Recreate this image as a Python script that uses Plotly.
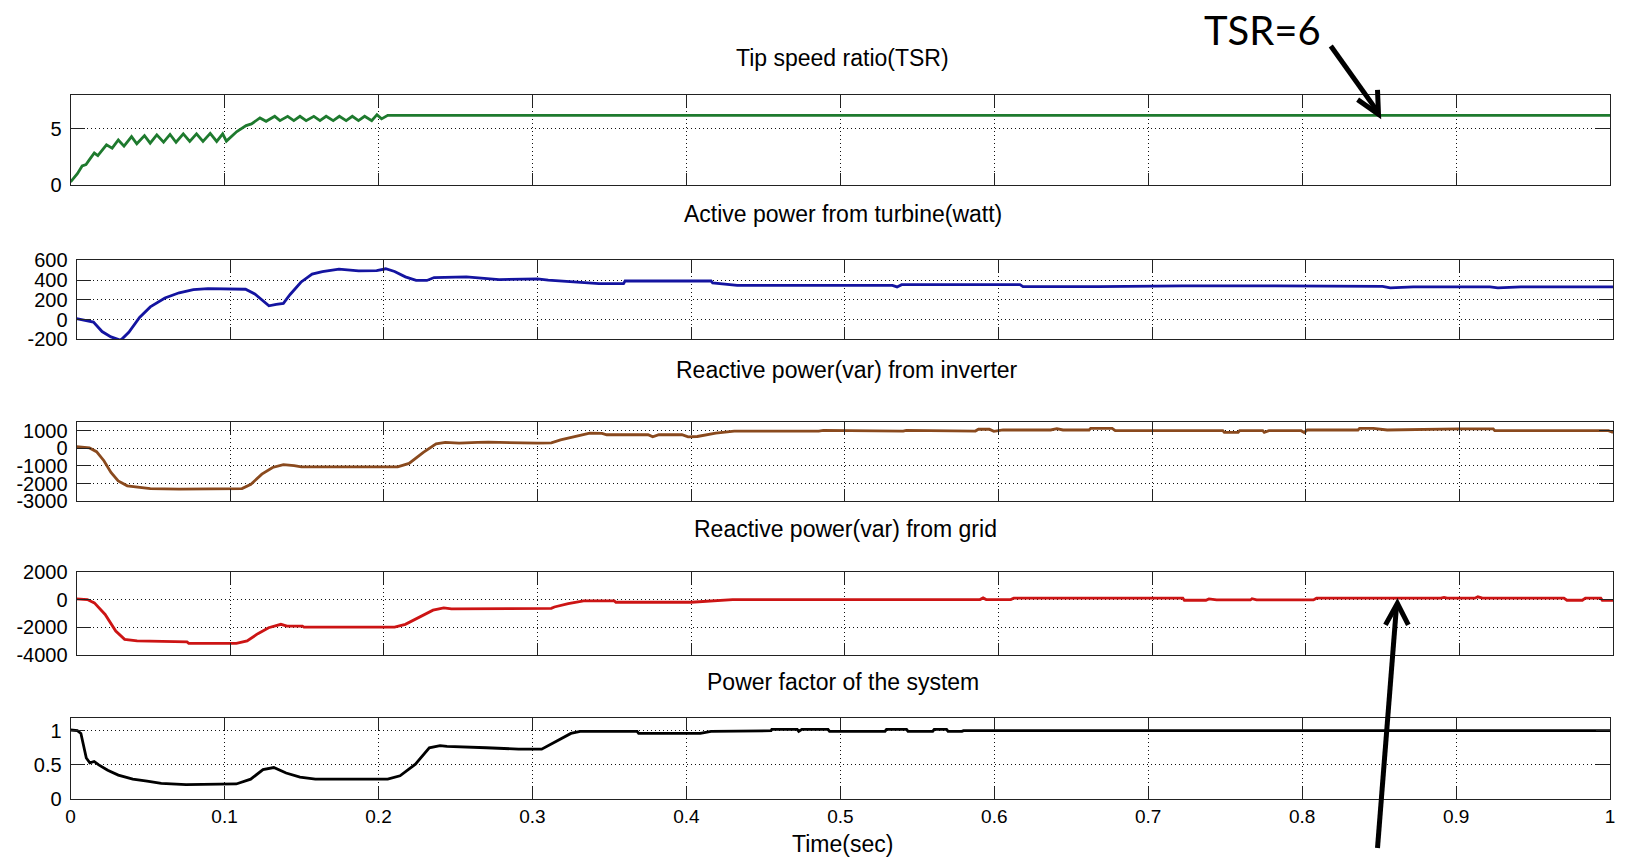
import plotly.graph_objects as go

W, H = 1626, 859

# ---------------- data ----------------
time_tsr = [0, 0.0044, 0.0075, 0.010, 0.0126, 0.0154, 0.0177, 0.0233, 0.027, 0.031, 0.0347,
            0.0396, 0.043, 0.048, 0.0517, 0.056, 0.0604, 0.0646, 0.0685, 0.0732, 0.0774,
            0.0818, 0.086, 0.0907, 0.0949, 0.0988, 0.1012, 0.108, 0.114, 0.1175, 0.123,
            0.127, 0.1326, 0.136, 0.141, 0.145, 0.149, 0.153, 0.158, 0.162, 0.166, 0.1706,
            0.1746, 0.179, 0.183, 0.187, 0.191, 0.1956, 0.199, 0.202, 0.206, 0.3, 0.4, 0.5,
            0.6, 0.7, 0.8, 0.9, 1.0]
tsr = [0.24, 0.98, 1.67, 1.8, 2.3, 2.83, 2.6, 3.57, 3.27, 4.0, 3.45,
       4.3, 3.66, 4.4, 3.72, 4.46, 3.8, 4.5, 3.8, 4.55, 3.87,
       4.55, 3.87, 4.6, 3.87, 4.55, 3.9, 4.76, 5.3, 5.45, 5.98,
       5.68, 6.13, 5.74, 6.13, 5.74, 6.13, 5.74, 6.13, 5.74, 6.13, 5.74,
       6.13, 5.74, 6.13, 5.74, 6.13, 5.74, 6.28, 5.9, 6.22, 6.22, 6.22, 6.22,
       6.22, 6.22, 6.22, 6.22, 6.22]

time_p = [0, 0.006, 0.011, 0.0166, 0.0224, 0.027, 0.0287, 0.034, 0.041, 0.048, 0.0575,
          0.0668, 0.076, 0.0855, 0.0995, 0.110, 0.116, 0.1217, 0.1252, 0.13, 0.1346, 0.139,
          0.146, 0.1533, 0.160, 0.1708, 0.1836, 0.1953, 0.2012, 0.207, 0.214, 0.221, 0.228,
          0.2327, 0.2537, 0.275, 0.2876, 0.3, 0.307, 0.322, 0.34, 0.356, 0.357, 0.413, 0.414,
          0.43, 0.531, 0.534, 0.537, 0.614, 0.616, 0.665, 0.72, 0.78, 0.85, 0.855, 0.87,
          0.92, 0.925, 0.94, 1.0]
p_active = [10, -7, -25, -121, -175, -200, -210, -128, 21, 128, 218,
            271, 303, 314, 314, 307, 260, 182, 139, 153, 164, 254,
            378, 460, 486, 510, 493, 496, 514, 486, 432, 396, 396,
            425, 432, 405, 412, 412, 400, 383, 363, 363, 390, 390, 370,
            346, 346, 330, 353, 353, 333, 333, 340, 340, 335, 320, 330,
            330, 320, 330, 330]

time_qi = [0, 0.0084, 0.013, 0.0178, 0.0224, 0.0271, 0.033, 0.0388, 0.048, 0.0668, 0.0995,
           0.1077, 0.1135, 0.1206, 0.1276, 0.1346, 0.1416, 0.1463, 0.209, 0.2164, 0.2257,
           0.234, 0.240, 0.249, 0.261, 0.268, 0.3, 0.309, 0.315, 0.325, 0.334, 0.342, 0.345,
           0.372, 0.375, 0.379, 0.394, 0.398, 0.404, 0.416, 0.428, 0.483, 0.486, 0.538, 0.54,
           0.585, 0.587, 0.594, 0.597, 0.603, 0.634, 0.638, 0.642, 0.659, 0.66, 0.674, 0.676,
           0.746, 0.747, 0.756, 0.757, 0.772, 0.773, 0.776, 0.797, 0.799, 0.801, 0.834, 0.835,
           0.844, 0.853, 0.9, 0.922, 0.923, 0.997, 1.0]
q_inverter = [95, 20, -190, -705, -1370, -1850, -2130, -2190, -2290, -2320, -2320,
              -2290, -2040, -1470, -1090, -930, -990, -1050, -1050, -860, -230,
              250, 340, 290, 340, 350, 290, 310, 480, 670, 865, 850, 770,
              770, 650, 770, 770, 650, 670, 865, 980, 980, 1020, 980, 1020,
              980, 1080, 1080, 960, 1040, 1040, 1115, 1040, 1040, 1130, 1130, 1000,
              1000, 900, 900, 1000, 1000, 900, 1000, 1000, 900, 1040, 1040, 1130,
              1130, 1040, 1100, 1100, 1000, 1000, 900]

time_qg = [0, 0.007, 0.0116, 0.0186, 0.0255, 0.0313, 0.0394, 0.0719, 0.073, 0.104, 0.111,
           0.118, 0.125, 0.133, 0.137, 0.147, 0.148, 0.207, 0.214, 0.223, 0.232, 0.239,
           0.244, 0.309, 0.311, 0.32, 0.33, 0.35, 0.351, 0.4, 0.412, 0.427, 0.588, 0.59,
           0.592, 0.608, 0.61, 0.72, 0.721, 0.735, 0.737, 0.742, 0.764, 0.765, 0.768, 0.805,
           0.807, 0.888, 0.89, 0.892, 0.91, 0.912, 0.915, 0.968, 0.97, 0.98, 0.982, 0.992,
           0.993, 1.0]
q_grid = [50, 0, -240, -1080, -2290, -2890, -3010, -3080, -3180, -3180, -3010,
          -2480, -2050, -1800, -1930, -1930, -2000, -2000, -1800, -1270, -770, -600,
          -670, -640, -540, -290, -100, -100, -195, -195, -120, 0, 0, 120,
          0, 0, 100, 100, -50, -50, 50, -30, -30, 60, -30, -30,
          100, 100, 160, 100, 100, 200, 100, 100, -50, -50, 100, 100,
          -60, -60]

time_pf = [0, 0.0044, 0.0067, 0.0084, 0.0102, 0.0125, 0.0153, 0.0183, 0.0241, 0.031, 0.0404,
           0.0497, 0.0589, 0.075, 0.094, 0.1076, 0.117, 0.125, 0.132, 0.14, 0.149, 0.159,
           0.206, 0.214, 0.224, 0.233, 0.24, 0.2445, 0.27, 0.291, 0.306, 0.311, 0.3186, 0.325,
           0.331, 0.368, 0.369, 0.409, 0.416, 0.455, 0.4555, 0.472, 0.473, 0.475, 0.492,
           0.493, 0.529, 0.53, 0.543, 0.544, 0.56, 0.561, 0.569, 0.57, 0.579, 0.58, 1.0]
power_factor = [1.01, 1.0, 0.96, 0.8, 0.6, 0.53, 0.55, 0.5, 0.42, 0.35, 0.29,
                0.26, 0.23, 0.21, 0.21, 0.22, 0.29, 0.43, 0.46, 0.38, 0.32, 0.29,
                0.29, 0.34, 0.51, 0.75, 0.78, 0.77, 0.75, 0.73, 0.73, 0.79, 0.89, 0.96,
                0.99, 0.99, 0.96, 0.96, 0.99, 1.0, 1.02, 1.02, 0.99, 1.02, 1.02,
                0.99, 0.99, 1.02, 1.02, 0.99, 0.99, 1.02, 1.02, 0.99, 0.99, 1.0, 1.0]

titles = ["Tip speed ratio(TSR)", "Active power from turbine(watt)",
          "Reactive power(var) from inverter", "Reactive power(var) from grid",
          "Power factor of the system"]
x_ticks = [0, 0.1, 0.2, 0.3, 0.4, 0.5, 0.6, 0.7, 0.8, 0.9, 1.0]
x_tick_labels = ["0", "0.1", "0.2", "0.3", "0.4", "0.5", "0.6", "0.7", "0.8", "0.9", "1"]
y_ticks = [[0, 5], [-200, 0, 200, 400, 600], [-3000, -2000, -1000, 0, 1000],
           [-4000, -2000, 0, 2000], [0, 0.5, 1]]
y_tick_labels = [["0", "5"], ["-200", "0", "200", "400", "600"],
                 ["-3000", "-2000", "-1000", "0", "1000"],
                 ["-4000", "-2000", "0", "2000"], ["0", "0.5", "1"]]
y_ranges = [[0, 8], [-200, 600], [-3000, 1510], [-4000, 2000], [0, 1.18]]

# ---------------- layout helpers ----------------
def fx(px):
    return px / W

def fy(py):
    return 1 - py / H

# pixel boxes (left, right, top, bottom)
boxes = [(66, 1615, 86.7, 178.1), (72, 1618, 255.8, 337), (72, 1618, 421.5, 503),
         (72, 1618, 575.8, 660.5), (66, 1615, 726, 808.7)]
colors = ["#1e7a2e", "#1414a0", "#8a4a1e", "#cc1414", "#000000"]
data = [(time_tsr, tsr), (time_p, p_active), (time_qi, q_inverter),
        (time_qg, q_grid), (time_pf, power_factor)]
title_pos = [(843, 48), (843, 208), (847, 368), (846, 532), (843, 689)]

FONT = "Liberation Sans"
fig = go.Figure()
layout = dict(width=W, height=H, margin=dict(l=0, r=0, t=0, b=0),
              paper_bgcolor="white", plot_bgcolor="white", showlegend=False)

for i in range(5):
    n = "" if i == 0 else str(i + 1)
    t, v = data[i]
    fig.add_trace(go.Scatter(x=t, y=v, mode="lines",
                             line=dict(color=colors[i], width=2.8),
                             xaxis="x" + n, yaxis="y" + n, hoverinfo="skip"))
    l, r, tp, bt = boxes[i]
    layout["xaxis" + n] = dict(
        domain=[fx(l), fx(r)], range=[0, 1], anchor="y" + n,
        tickvals=x_ticks, ticktext=x_tick_labels, showticklabels=(i == 4),
        showgrid=True, gridcolor="#111", gridwidth=1, griddash="1px,3px",
        showline=True, linecolor="#222", linewidth=1, mirror="ticks",
        ticks="inside", ticklen=12, tickcolor="#222", tickwidth=1,
        zeroline=False, ticklabelstandoff=0,
        tickfont=dict(family=FONT, size=19, color="black"))
    layout["yaxis" + n] = dict(
        domain=[fy(bt), fy(tp)], range=y_ranges[i], anchor="x" + n,
        tickvals=y_ticks[i], ticktext=y_tick_labels[i],
        showgrid=True, gridcolor="#111", gridwidth=1, griddash="1px,3px",
        showline=True, linecolor="#222", linewidth=1, mirror="ticks",
        ticks="inside", ticklen=14, tickcolor="#222", tickwidth=1,
        zeroline=False, ticklabelstandoff=4,
        tickfont=dict(family=FONT, size=20, color="black"))

annotations = []
for (cx, cy), txt in zip(title_pos, titles):
    annotations.append(dict(text=txt, x=fx(cx), y=fy(cy), xref="paper", yref="paper",
                            xanchor="center", yanchor="middle", showarrow=False,
                            font=dict(family=FONT, size=23, color="black")))
annotations.append(dict(text="Time(sec)", x=fx(843), y=fy(855), xref="paper", yref="paper",
                        xanchor="center", yanchor="middle", showarrow=False,
                        font=dict(family=FONT, size=23, color="black")))
annotations.append(dict(text="TSR=6", x=fx(1265), y=fy(20), xref="paper", yref="paper",
                        xanchor="center", yanchor="middle", showarrow=False,
                        font=dict(family="Lato", size=40, color="black")))
layout["annotations"] = annotations

def path(points):
    return "M " + " L ".join(f"{fx(x):.5f},{fy(y):.5f}" for x, y in points)

arrow_style = dict(type="path", xref="paper", yref="paper",
                   line=dict(color="black", width=5))
layout["shapes"] = [
    dict(path=path([(1334, 36), (1381, 103)]), **arrow_style),
    dict(path=path([(1361, 91), (1382, 106), (1381, 81)]), **arrow_style),
    dict(path=path([(1381, 859), (1400, 612)]), **arrow_style),
    dict(path=path([(1389, 630), (1401, 608), (1412, 630)]), **arrow_style),
]

fig.update_layout(**layout)
fig.write_html("out.html")
